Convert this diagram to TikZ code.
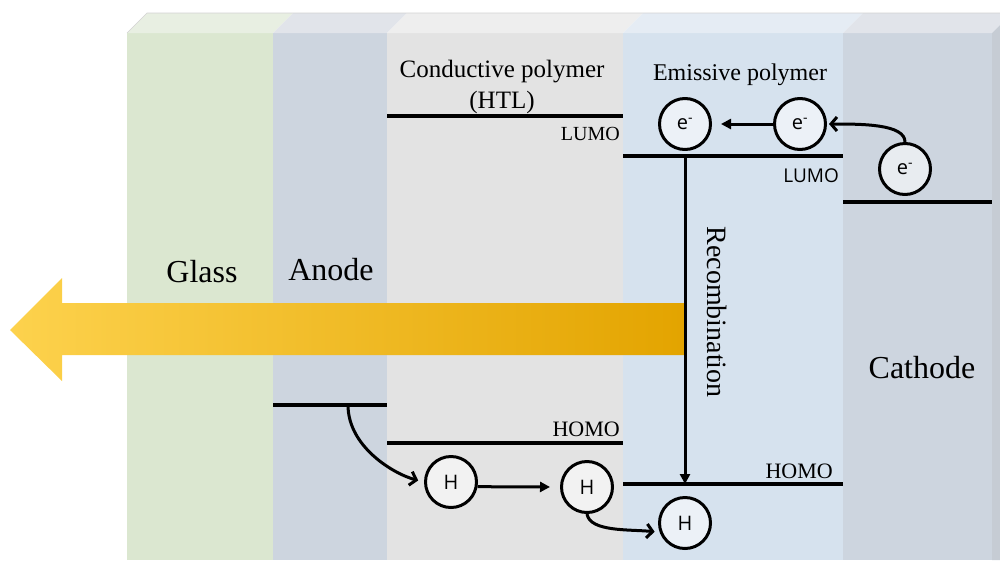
\documentclass[tikz,border=0pt]{standalone}
\usepackage{fontspec}
\setmainfont{Liberation Serif}
\newfontfamily\sansf{Open Sans}
\usetikzlibrary{arrows.meta}
\definecolor{glassF}{HTML}{DBE7D0}
\definecolor{glassT}{HTML}{E8EFE2}
\definecolor{anodeF}{HTML}{CDD5DF}
\definecolor{anodeT}{HTML}{E1E4EA}
\definecolor{htlF}{HTML}{E3E3E3}
\definecolor{htlT}{HTML}{EEEEEE}
\definecolor{emF}{HTML}{D6E2EE}
\definecolor{emT}{HTML}{E5ECF4}
\definecolor{sideC}{HTML}{C6CCD4}
\definecolor{arrL}{HTML}{FDD24D}
\definecolor{arrM}{HTML}{F4C03A}
\definecolor{arrR}{HTML}{E3A400}
\begin{document}
\begin{tikzpicture}[x=1pt,y=-1pt,line join=round,
  enlevel/.style={line width=3.6pt},
  particle/.style={circle,draw,line width=3pt,minimum size=51pt,inner sep=0pt,
    fill=white,fill opacity=0.55,text opacity=1,font=\sansf\fontsize{20}{22}\selectfont},
  flow/.style={line width=3pt,-{Triangle[length=10pt,width=10pt]}},
  hop/.style={line width=3pt,-{Straight Barb[length=6pt,width=14pt]}},
  lbl/.style={inner sep=0pt},
  big/.style={lbl,font=\fontsize{32}{36}\selectfont}]
\useasboundingbox (0,0) rectangle (1000,560);
\clip (0,0) rectangle (1000,560);
% layers: front faces
\fill[glassF] (127,33) rectangle (273,560);
\fill[anodeF] (273,33) rectangle (387,560);
\fill[htlF] (387,33) rectangle (623,560);
\fill[emF] (623,33) rectangle (843,560);
\fill[anodeF] (843,33) rectangle (992,560);
% top faces
\fill[glassT] (127,33) -- (147,13) -- (293,13) -- (273,33) -- cycle;
\fill[anodeT] (273,33) -- (293,13) -- (407,13) -- (387,33) -- cycle;
\fill[htlT] (387,33) -- (407,13) -- (643,13) -- (623,33) -- cycle;
\fill[emT] (623,33) -- (643,13) -- (863,13) -- (843,33) -- cycle;
\fill[anodeT] (843,33) -- (863,13) -- (1012,13) -- (992,33) -- cycle;
% side face
\fill[sideC] (992,33) -- (1012,13) -- (1012,560) -- (992,560) -- cycle;
\draw[gray!35,line width=0.6pt] (127,33) -- (147,13) -- (1012,13);
% energy levels
\coordinate (htlL1) at (387,116); \coordinate (htlL2) at (623,116);
\coordinate (emL1) at (623,156); \coordinate (emL2) at (843,156);
\coordinate (caL1) at (843,202); \coordinate (caL2) at (992,202);
\coordinate (anL1) at (273,405); \coordinate (anL2) at (387,405);
\coordinate (htlH1) at (387,443); \coordinate (htlH2) at (623,443);
\coordinate (emH1) at (623,484); \coordinate (emH2) at (843,484);
\draw[enlevel] (htlL1) -- (htlL2);
\draw[enlevel] (emL1) -- (emL2);
\draw[enlevel] (caL1) -- (caL2);
\draw[enlevel] (anL1) -- (anL2);
\draw[enlevel] (htlH1) -- (htlH2);
\draw[enlevel] (emH1) -- (emH2);
% big light arrow
\shade[left color=arrL,middle color=arrM,right color=arrR]
  (684,303) -- (62,303) -- (62,278) -- (10,330) -- (62,381) -- (62,355) -- (684,355) -- cycle;
% recombination
\coordinate (rTop) at (685,156);
\coordinate (rBot) at (685,484);
\draw[flow] (rTop) -- (rBot);
% particles
\node[particle] (e1) at (685,124) {e\textsuperscript{-}};
\node[particle] (e2) at (800,124) {e\textsuperscript{-}};
\node[particle] (e3) at (905,169) {e\textsuperscript{-}};
\node[particle] (h1) at (451,482) {H};
\node[particle] (h2) at (587,487) {H};
\node[particle] (h3) at (685,523) {H};
% transport arrows
\draw[flow,shorten >=9pt] (e2.west) -- (e1.east);
\draw[hop,shorten >=2pt] (e3.north) .. controls +(0,-18) and +(35,0) .. (e2.east);
\coordinate (aStart) at (348,405);
\draw[hop,shorten >=6pt] (aStart) .. controls +(0,42) and +(-30,-8) .. (h1.west);
\draw[flow,shorten >=10pt] (h1.-10) -- (h2.west);
\draw[hop,shorten >=5pt] (h2.south) .. controls +(3,18) and +(-30,-3) .. (h3.200);
% labels
\node[big,anchor=base] (glass) at (202,282) {Glass};
\node[big,anchor=base] (anode) at (331,280) {Anode};
\node[big,anchor=base] (cathode) at (922,378) {Cathode};
\node[lbl,anchor=base,font=\fontsize{25}{28}\selectfont] (htl1) at (502,77) {Conductive polymer};
\node[lbl,anchor=base,font=\fontsize{25}{28}\selectfont] (htl2) at (502,108) {(HTL)};
\node[lbl,anchor=base,font=\fontsize{24}{28}\selectfont] (emis) at (740,80) {Emissive polymer};
\node[lbl,anchor=base east,font=\fontsize{20}{24}\selectfont] (lumo1) at (620,140) {LUMO};
\node[lbl,anchor=base east,font=\sansf\fontsize{19}{22}\selectfont] (lumo2) at (839,182) {LUMO};
\node[lbl,anchor=base east,font=\fontsize{22}{24}\selectfont] (homo1) at (620,436) {HOMO};
\node[lbl,anchor=base east,font=\fontsize{22}{24}\selectfont] (homo2) at (833,478) {HOMO};
\node[lbl,rotate=-90,font=\fontsize{28}{30}\selectfont] (recomb) at (717,312) {Recombination};
\end{tikzpicture}
\end{document}
